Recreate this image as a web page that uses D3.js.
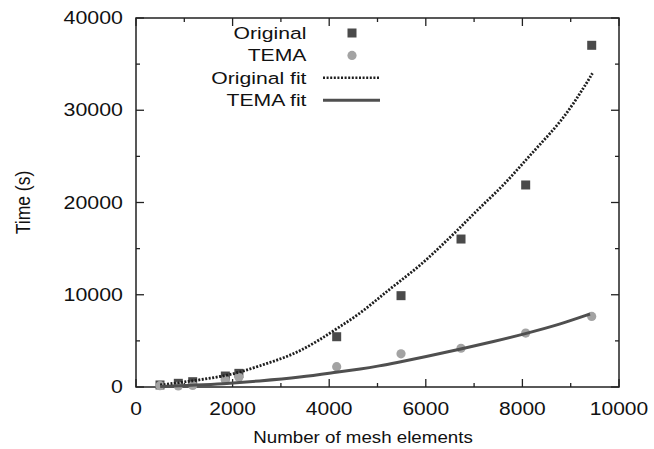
<!DOCTYPE html>
<html>
<head>
<meta charset="utf-8">
<script src="https://cdn.jsdelivr.net/npm/d3@7"></script>
<style>
  body { margin: 0; background: #fff; }
  text { font-family: "Liberation Sans", Arial, sans-serif; fill: #111; }
</style>
</head>
<body>
<div id="chart"></div>
<script>
// measured points
const meshOrig = [497, 876, 1174, 1850, 2130, 4155, 5487, 6729, 8068, 9435];
const timeOrig = [220, 400, 575, 1190, 1480, 5450, 9900, 16040, 21900, 37040];
const meshTema = [497, 876, 1174, 1850, 2130, 4155, 5487, 6729, 8068, 9435];
const timeTema = [140, 110, 160, 760, 1050, 2200, 3600, 4200, 5850, 7650];

// fit curves
const origFitMesh = [500, 900, 1300, 1750, 2150, 2550, 3000, 3400, 3800, 4200, 4650, 5050, 5450, 5900, 6300, 6700, 7100, 7550, 7950, 8350, 8800, 9200, 9450];
const origFitTime = [220, 470, 760, 1120, 1590, 2280, 3040, 3900, 5100, 6470, 8000, 9750, 11420, 13230, 15210, 17200, 19370, 21540, 23880, 26230, 28760, 31840, 34000];
const temaFitMesh = [500, 1300, 1750, 2550, 3400, 4200, 4650, 5050, 5350, 6000, 6700, 7400, 8100, 8800, 9400];
const temaFitTime = [50, 220, 330, 650, 1050, 1650, 1950, 2300, 2600, 3280, 4100, 4920, 5830, 6830, 7910];

const xTicks = [0, 2000, 4000, 6000, 8000, 10000];
const yTicks = [0, 10000, 20000, 30000, 40000];
const legendLabels = ["Original", "TEMA", "Original fit", "TEMA fit"];

const width = 654, height = 449;
const margin = { top: 18, right: 35, bottom: 62, left: 136 };

const svg = d3.select("#chart").append("svg")
    .attr("width", width)
    .attr("height", height);

const x = d3.scaleLinear().domain([0, 10000]).range([margin.left, width - margin.right]);
const y = d3.scaleLinear().domain([0, 40000]).range([height - margin.bottom, margin.top]);

// stretch text horizontally, the reference glyphs are wide
function stretch(sel, k) {
    sel.each(function() {
        const w = this.getComputedTextLength();
        d3.select(this).attr("textLength", w * k).attr("lengthAdjust", "spacingAndGlyphs");
    });
}

const axisColor = "#222";
const x0 = x(0), x1 = x(10000), y0 = y(0), y1 = y(40000);

// inward ticks on all four sides, minor at half steps
const minorX = d3.range(1000, 10000, 2000);
const minorY = d3.range(5000, 40000, 10000);
const tickG = svg.append("g").attr("stroke", axisColor).attr("stroke-width", 1.3);
[[xTicks, 8], [minorX, 4]].forEach(([vals, len]) => {
    vals.forEach(v => {
        tickG.append("line").attr("x1", x(v)).attr("x2", x(v)).attr("y1", y0).attr("y2", y0 - len);
        tickG.append("line").attr("x1", x(v)).attr("x2", x(v)).attr("y1", y1).attr("y2", y1 + len);
    });
});
[[yTicks, 8], [minorY, 4]].forEach(([vals, len]) => {
    vals.forEach(v => {
        tickG.append("line").attr("y1", y(v)).attr("y2", y(v)).attr("x1", x0).attr("x2", x0 + len);
        tickG.append("line").attr("y1", y(v)).attr("y2", y(v)).attr("x1", x1).attr("x2", x1 - len);
    });
});

svg.append("rect")
    .attr("x", x0).attr("y", y1)
    .attr("width", x1 - x0).attr("height", y0 - y1)
    .attr("fill", "none").attr("stroke", axisColor).attr("stroke-width", 1.5);

// tick labels
const xl = svg.append("g").selectAll("text").data(xTicks).join("text")
    .attr("x", d => x(d)).attr("y", y0 + 28)
    .attr("text-anchor", "middle")
    .style("font-size", "17.5px")
    .text(d => d);
stretch(xl, 1.2);

const yl = svg.append("g").selectAll("text").data(yTicks).join("text")
    .attr("x", x0 - 13).attr("y", d => y(d)).attr("dy", "0.35em")
    .attr("text-anchor", "end")
    .style("font-size", "17.5px")
    .text(d => d);
stretch(yl, 1.22);

// axis titles
const xt = svg.append("text")
    .attr("x", 363).attr("y", 443)
    .attr("text-anchor", "middle")
    .style("font-size", "16.3px")
    .text("Number of mesh elements");
stretch(xt, 1.15);

svg.append("text")
    .attr("transform", `translate(30,${(y0 + y1) / 2}) rotate(-90) scale(1,1.2)`)
    .attr("text-anchor", "middle")
    .style("font-size", "17.5px")
    .text("Time (s)");

// points
const origData = meshOrig.map((m, i) => ({ m, t: timeOrig[i] }));
const temaData = meshTema.map((m, i) => ({ m, t: timeTema[i] }));
const sq = 9;

svg.append("g").selectAll("rect").data(origData).join("rect")
    .attr("x", d => x(d.m) - sq / 2).attr("y", d => y(d.t) - sq / 2)
    .attr("width", sq).attr("height", sq)
    .attr("fill", "#4a4a4a");

svg.append("g").selectAll("circle").data(temaData).join("circle")
    .attr("cx", d => x(d.m)).attr("cy", d => y(d.t)).attr("r", 4.6)
    .attr("fill", "#a3a3a3");

// fits
const line = d3.line().x(d => x(d[0])).y(d => y(d[1])).curve(d3.curveBasis);

svg.append("path")
    .attr("d", line(origFitMesh.map((m, i) => [m, origFitTime[i]])))
    .attr("fill", "none").attr("stroke", "#1e1e1e")
    .attr("stroke-width", 2.8).attr("stroke-dasharray", "2,1.5");

svg.append("path")
    .attr("d", line(temaFitMesh.map((m, i) => [m, temaFitTime[i]])))
    .attr("fill", "none").attr("stroke", "#4f4f4f")
    .attr("stroke-width", 3);

// legend
const lg = svg.append("g");
const rowY = i => 33 + i * 22.4;
legendLabels.forEach((lab, i) => {
    const t = lg.append("text")
        .attr("x", 306.5).attr("y", rowY(i)).attr("dy", "0.36em")
        .attr("text-anchor", "end")
        .style("font-size", "16.3px")
        .text(lab);
    stretch(t, 1.3);
});
lg.append("rect").attr("x", 352 - sq / 2).attr("y", rowY(0) - sq / 2)
    .attr("width", sq).attr("height", sq).attr("fill", "#4a4a4a");
lg.append("circle").attr("cx", 352).attr("cy", rowY(1)).attr("r", 4.6).attr("fill", "#a3a3a3");
lg.append("line").attr("x1", 323).attr("x2", 380).attr("y1", rowY(2)).attr("y2", rowY(2))
    .attr("stroke", "#1e1e1e").attr("stroke-width", 2.6).attr("stroke-dasharray", "2,1.6");
lg.append("line").attr("x1", 323).attr("x2", 380).attr("y1", rowY(3)).attr("y2", rowY(3))
    .attr("stroke", "#4f4f4f").attr("stroke-width", 3);
</script>
</body>
</html>
